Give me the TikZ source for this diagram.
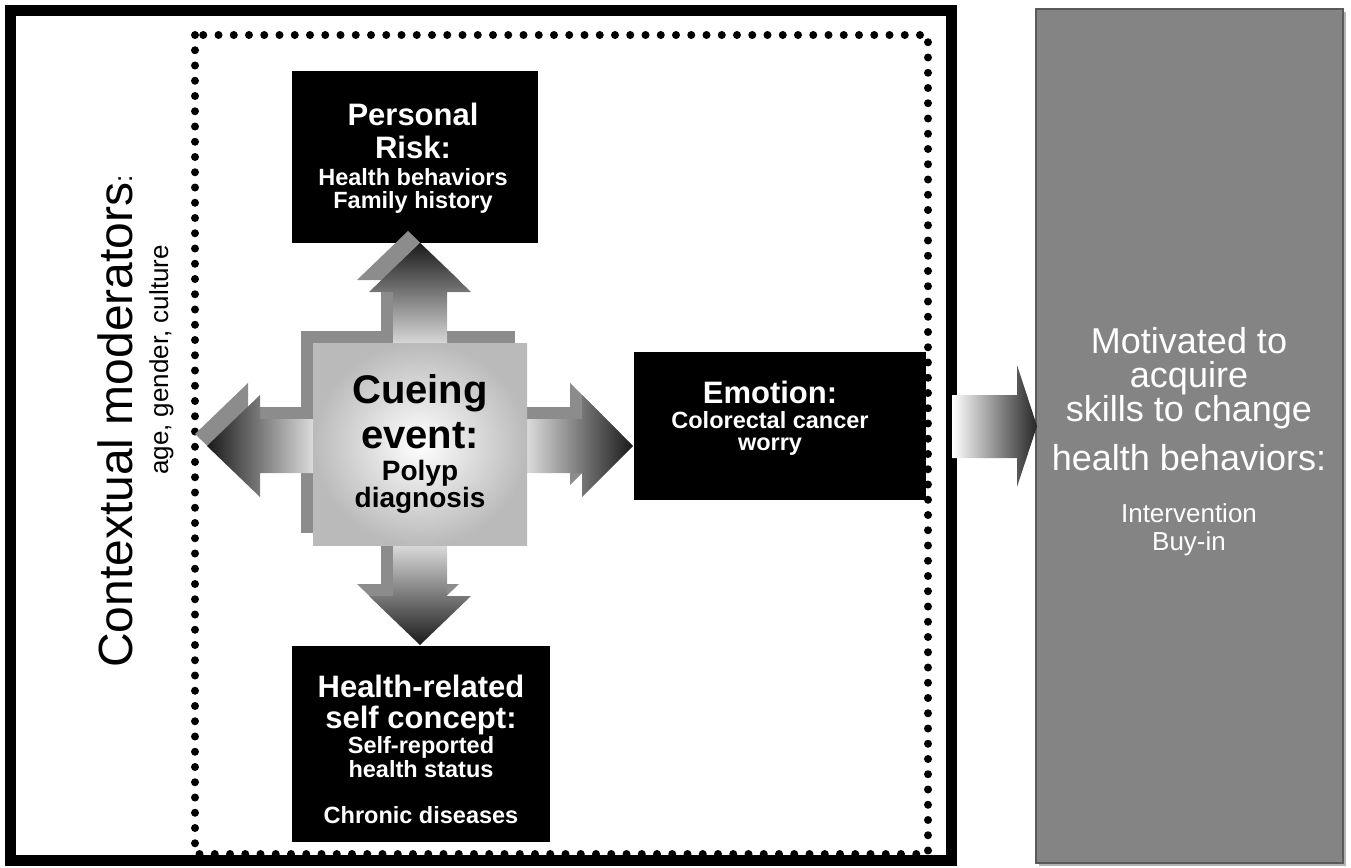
\documentclass[tikz,border=0pt]{standalone}
\usepackage{fontspec}
\setmainfont{Liberation Sans}
\definecolor{shadowgray}{HTML}{8C8C8C}
\definecolor{boxgray}{HTML}{848484}
\definecolor{boxedge}{HTML}{5A5A5A}
\definecolor{arrowdark}{HTML}{1A1A1A}
\definecolor{arrowlight}{HTML}{E4E4E4}
\definecolor{squareedge}{HTML}{BABABA}
\begin{document}
\begin{tikzpicture}[x=1pt,y=-1pt,
  blackbox/.style={fill=black, draw=none, inner sep=0pt},
  ttl/.style={anchor=base, inner sep=0pt, text=white, font=\bfseries\fontsize{31}{31}\selectfont},
  sub/.style={anchor=base, inner sep=0pt, text=white, font=\bfseries\fontsize{23.5}{23.5}\selectfont},
  cue/.style={anchor=base, inner sep=0pt, text=black, font=\bfseries\fontsize{40}{40}\selectfont},
  cuesub/.style={anchor=base, inner sep=0pt, text=black, font=\bfseries\fontsize{28}{28}\selectfont},
  mot/.style={anchor=base, inner sep=0pt, text=white, font=\fontsize{36}{36}\selectfont},
  motsub/.style={anchor=base, inner sep=0pt, text=white, font=\fontsize{26}{26}\selectfont},
  shadowshape/.style={fill=shadowgray, draw=none},
]
\useasboundingbox (0,0) rectangle (1351,867);

% outer frame
\node[draw=black, line width=11pt, minimum width=941pt, minimum height=850pt, inner sep=0pt] (frame) at (481,435.5) {};
% dotted frame
\draw[line width=8pt, line cap=round, dash pattern=on 0pt off 15.25pt] (195,35) rectangle (928,854);

% black boxes
\node[blackbox, minimum width=246pt, minimum height=172pt] (risk) at (415,157) {};
\node[blackbox, minimum width=292pt, minimum height=148pt] (emotion) at (780,426) {};
\node[blackbox, minimum width=258pt, minimum height=196pt] (health) at (421,744) {};

% right grey box
\fill[black!30] (1039,12) rectangle (1346,866);
\node[fill=boxgray, draw=boxedge, line width=1.2pt, minimum width=307pt, minimum height=854pt, inner sep=0pt] (motiv) at (1189.5,436) {};

% shadows of the cross
\begin{scope}[shift={(-12,-12)}]
  \fill[shadowgray] (393,350) -- (393,292) -- (369,292) -- (420,243) -- (471,292) -- (447,292) -- (447,350) -- cycle;
  \fill[shadowgray] (393,540) -- (393,596) -- (369,596) -- (420,645) -- (471,596) -- (447,596) -- (447,540) -- cycle;
  \fill[shadowgray] (318,419) -- (260,419) -- (260,395) -- (207,446) -- (260,497) -- (260,473) -- (318,473) -- cycle;
  \fill[shadowgray] (522,419) -- (582,419) -- (582,395) -- (633,446) -- (582,497) -- (582,473) -- (522,473) -- cycle;
\end{scope}
\node[shadowshape, minimum width=214pt, minimum height=202pt, inner sep=0pt] (cueshadow) at (408,432) {};

% main arrows
\shade[top color=arrowdark, bottom color=arrowlight] (393,350) -- (393,292) -- (369,292) -- (420,243) -- (471,292) -- (447,292) -- (447,350) -- cycle;
\shade[bottom color=arrowdark, top color=arrowlight] (393,540) -- (393,596) -- (369,596) -- (420,645) -- (471,596) -- (447,596) -- (447,540) -- cycle;
\shade[left color=arrowdark, right color=arrowlight] (318,419) -- (260,419) -- (260,395) -- (207,446) -- (260,497) -- (260,473) -- (318,473) -- cycle;
\shade[right color=arrowdark, left color=arrowlight] (522,419) -- (582,419) -- (582,395) -- (633,446) -- (582,497) -- (582,473) -- (522,473) -- cycle;

% central square
\node[inner color=white, outer color=squareedge, minimum width=214pt, minimum height=202pt, inner sep=0pt] (cue) at (420,444) {};

% big arrow to the right box
\shade[left color=white, right color=black!85] (952,395) -- (1017,395) -- (1017,365) -- (1037,426) -- (1017,487) -- (1017,458) -- (952,458) -- cycle;

% texts: personal risk
\node[ttl] (r1) at (413,125) {Personal};
\node[ttl] (r2) at (413,158) {Risk:};
\node[sub] (r3) at (413,185) {Health behaviors};
\node[sub] (r4) at (413,208) {Family history};

% emotion
\node[ttl] (e1) at (770,403) {Emotion:};
\node[sub] (e2) at (770,428) {Colorectal cancer};
\node[sub] (e3) at (770,450) {worry};

% cueing
\node[cue] (c1) at (420,403) {Cueing};
\node[cue] (c2) at (420,448) {event:};
\node[cuesub] (c3) at (420,480) {Polyp};
\node[cuesub] (c4) at (420,507) {diagnosis};

% health
\node[ttl] (h1) at (421,697) {Health-related};
\node[ttl] (h2) at (421,728) {self concept:};
\node[sub] (h3) at (421,753) {Self-reported};
\node[sub] (h4) at (421,777) {health status};
\node[sub] (h5) at (421,823) {Chronic diseases};

% right box text
\node[mot] (m1) at (1189,353) {Motivated to};
\node[mot] (m2) at (1189,387) {acquire};
\node[mot] (m3) at (1189,421) {skills to change};
\node[mot] (m4) at (1189,470) {health behaviors:};
\node[motsub] (m5) at (1189,522) {Intervention};
\node[motsub] (m6) at (1189,550) {Buy-in};

% contextual moderators
\node[rotate=90, anchor=base west, inner sep=0pt, font=\fontsize{48}{48}\selectfont] (ctx) at (132,668) {Contextual moderators{\fontsize{26}{26}\selectfont:}};
\node[rotate=90, anchor=base west, inner sep=0pt, font=\fontsize{26}{26}\selectfont] (ctxsub) at (168,475) {age, gender, culture};
\end{tikzpicture}
\end{document}
